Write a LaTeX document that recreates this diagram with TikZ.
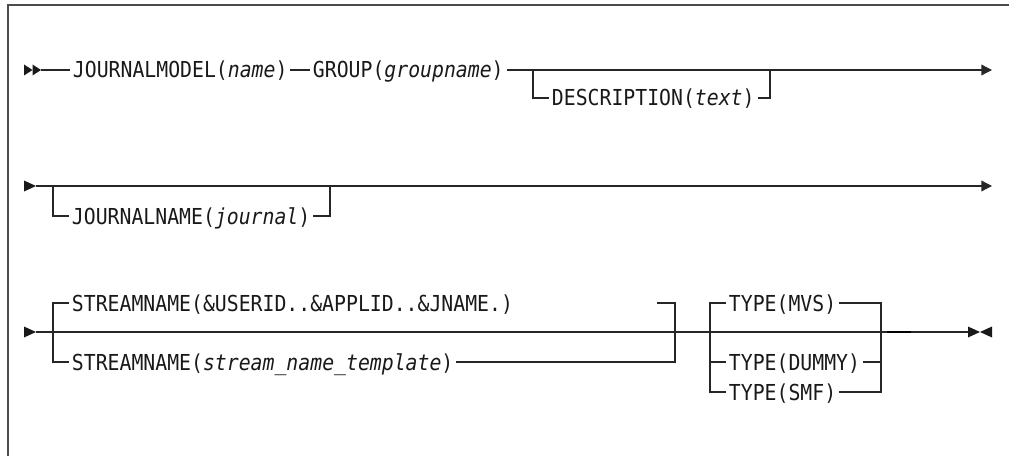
\documentclass[tikz,border=0pt]{standalone}
\usepackage{fontspec}
\newfontfamily\railfont[FakeStretch=0.9]{DejaVu Sans Mono}
\usetikzlibrary{arrows.meta}
\def\railtri(#1)(#2){\fill[black!90] (#1) ++(0,-5.5) -- ++(#2,5.5) -- ++(-#2,5.5) -- cycle;}
\def\railtrl(#1)(#2){\fill[black!90] (#1) ++(0,-5.5) -- ++(-#2,5.5) -- ++(#2,5.5) -- cycle;}
\tikzset{
  rail/.style={line width=1pt, color=black!85},
  railend/.style={rail, -{Triangle[length=8pt,width=8pt]}},
  kw/.style={anchor=west, inner xsep=2pt, inner ysep=0pt, text height=12pt, text depth=0pt,
    font=\railfont\fontsize{16.5}{19}\selectfont, text=black!90}
}

\begin{document}
\begin{tikzpicture}[x=0.75pt,y=-0.75pt]
		%%%%% START %%%%%
		\useasboundingbox (0,0) rectangle (1009,456);
		\draw[line width=1.1pt, color=black!70] (8,456) -- (8,5) -- (1009,5);
		
		% first line
		\railtri(24,70)(8.5)
		\railtri(32.5,70)(8.5)
		\coordinate (s1) at (41,70);
		\coordinate (b1) at (533,70);
		\coordinate (e1) at (770,70);
		\coordinate (t1) at (992,70);
		\node[kw] (jm) at (70,70) {JOURNALMODEL(\textit{name})};
		\node[kw] (grp) at (310,70) {GROUP(\textit{groupname})};
		\node[kw] (desc) at (549,98) {DESCRIPTION(\textit{text})};
		\draw[rail] (s1) -- (jm.west);
		\draw[rail] (jm.east) -- (grp.west);
		\draw[railend] (grp.east) -- (t1);
		\draw[rail] (b1) |- (desc.west);
		\draw[rail] (desc.east) -| (e1);
		
		% second line
		\railtri(24,186)(12)
		\coordinate (s2) at (36,186);
		\coordinate (b2) at (53,186);
		\coordinate (e2) at (330,186);
		\coordinate (t2) at (992,186);
		\node[kw] (jn) at (69,216) {JOURNALNAME(\textit{journal})};
		\draw[railend] (s2) -- (t2);
		\draw[rail] (b2) |- (jn.west);
		\draw[rail] (jn.east) -| (e2);
		
		% third line
		\railtri(24,332)(12)
		\coordinate (s3) at (36,332);
		\coordinate (b3) at (53,362);
		\coordinate (g3) at (657,303);
		\coordinate (j3) at (675,362);
		\coordinate (tb) at (710,392);
		\coordinate (tm) at (710,362);
		\coordinate (rt) at (881,303);
		\coordinate (rm) at (881,362);
		\coordinate (rb) at (881,392);
		\coordinate (e3) at (968,332);
		\node[kw] (sn1) at (69,303) {STREAMNAME(\&USERID..\&APPLID..\&JNAME.)};
		\node[kw] (sn2) at (69,362) {STREAMNAME(\textit{stream\_name\_template})};
		\node[kw] (mvs) at (726,303) {TYPE(MVS)};
		\node[kw] (dum) at (726,362) {TYPE(DUMMY)};
		\node[kw] (smf) at (726,392) {TYPE(SMF)};
		\draw[rail] (s3) -- (e3);
		\draw[rail] (sn1.west) -| (b3) -- (sn2.west);
		\draw[rail] (g3) -| (j3) -- (sn2.east);
		\draw[rail] (mvs.west) -| (tb) -- (smf.west);
		\draw[rail] (tm) -- (dum.west);
		\draw[rail] (mvs.east) -- (rt) -- (rb) -- (smf.east);
		\draw[rail] (dum.east) -- (rm);
		\draw[line width=2pt, color=black] (887,332) -- (911,332);
		\railtri(968,332)(12)
		\railtrl(992,332)(12)
		
		%%%%% END %%%%%
	\end{tikzpicture}
\end{document}
